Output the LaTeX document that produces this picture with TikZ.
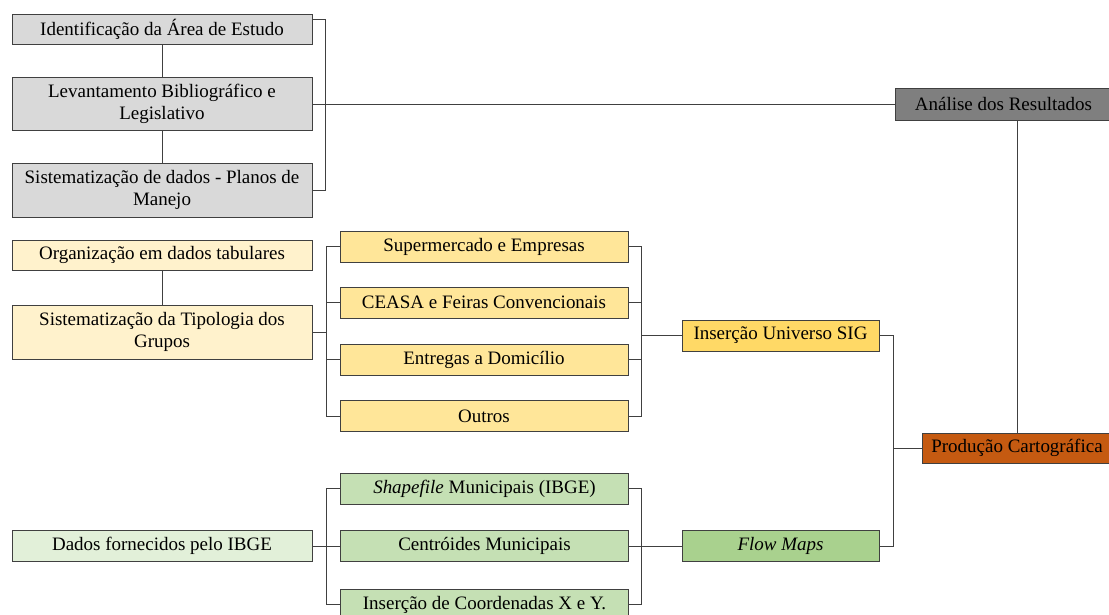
\documentclass[tikz,border=0pt]{standalone}
\usepackage{fontspec}
\setmainfont{Liberation Serif}
\usepackage{xcolor}
\usepackage{tikz}
\usetikzlibrary{positioning, calc}

\definecolor{cinzaclaro}{HTML}{D9D9D9}
\definecolor{cinzaescuro}{HTML}{7F7F7F}
\definecolor{laranja}{HTML}{C55A11}
\definecolor{amareloclaro}{HTML}{FFF2CC}
\definecolor{amarelo}{HTML}{FFE699}
\definecolor{amareloforte}{HTML}{FFD966}
\definecolor{verdeclaro}{HTML}{E2F0D9}
\definecolor{verde}{HTML}{C5E0B4}
\definecolor{verdeforte}{HTML}{A9D18E}
\definecolor{linha}{HTML}{404040}

\begin{document}
\begin{tikzpicture}[x=0.025cm, y=-0.025cm,
    font=\fontsize{13.5}{15.6}\selectfont,
    caixa/.style={draw=linha, line width=0.6pt, align=center, inner sep=0pt,
                  minimum height=0.75cm},
    etapa/.style={caixa, minimum width=7.5cm},
    ramo/.style={caixa, minimum width=7.2cm, minimum height=0.775cm},
    saida/.style={caixa, minimum width=4.925cm, minimum height=0.775cm},
    liga/.style={draw=linha, line width=0.6pt}]
  \useasboundingbox (0,0) rectangle (1109,615);

  % etapas iniciais
  \node[etapa, fill=cinzaclaro] (ide) at (162, 29) {Identificação da Área de Estudo};
  \node[etapa, fill=cinzaclaro, minimum height=1.325cm] (lev) at (162, 104) {Levantamento Bibliográfico e\\Legislativo};
  \node[etapa, fill=cinzaclaro, minimum height=1.35cm] (sis) at (162, 190) {Sistematização de dados - Planos de\\Manejo};

  \node[etapa, fill=amareloclaro] (org) at (162, 255) {Organização em dados tabulares};
  \node[etapa, fill=amareloclaro, minimum height=1.35cm] (tip) at (162, 332) {Sistematização da Tipologia dos\\Grupos};

  \node[etapa, fill=verdeclaro, minimum height=0.775cm] (ibge) at (162, 546) {Dados fornecidos pelo IBGE};

  % grupos
  \node[ramo, fill=amarelo] (sup) at (484, 246.5) {Supermercado e Empresas};
  \node[ramo, fill=amarelo] (cea) at (484, 302.5) {CEASA e Feiras Convencionais};
  \node[ramo, fill=amarelo] (ent) at (484, 359.5) {Entregas a Domicílio};
  \node[ramo, fill=amarelo] (out) at (484, 416) {Outros};

  \node[ramo, fill=verde] (shp) at (484.5, 488.5) {\textit{Shapefile} Municipais (IBGE)};
  \node[ramo, fill=verde] (cen) at (484.5, 546) {Centróides Municipais};
  \node[ramo, fill=verde] (coo) at (484.5, 604.5) {Inserção de Coordenadas X e Y.};

  % saidas
  \node[saida, fill=amareloforte] (sig) at (780.5, 335.5) {Inserção Universo SIG};
  \node[saida, fill=verdeforte] (flow) at (780.5, 546) {\textit{Flow Maps}};

  \node[caixa, fill=cinzaescuro, minimum width=5.425cm, minimum height=0.8cm] (ana) at (1003.5, 104) {Análise dos Resultados};
  \node[caixa, fill=laranja, minimum width=4.75cm] (pro) at (1017, 448) {Produção Cartográfica};

  % colunas dos colchetes
  \coordinate (ca) at (325, 0);
  \coordinate (ce) at (326, 0);
  \coordinate (cd) at (641, 0);
  \coordinate (cs) at (893, 0);

  % ligacoes
  \draw[liga] (ide) -- (lev); \draw[liga] (lev) -- (sis);
  \draw[liga] ([yshift=7pt]ide.east) -| (ca |- sis.east) -- (sis.east);
  \draw[liga] (lev.east) -- (ana.west);
  \draw[liga] (ana.south -| pro.north) -- (pro.north);

  \draw[liga] (org) -- (tip);
  \draw[liga] (tip.east) -- (tip.east -| ce);
  \draw[liga] (sup.west) -| (ce |- out.west) -- (out.west);
  \draw[liga] (cea.west) -- (cea.west -| ce); \draw[liga] (ent.west) -- (ent.west -| ce);
  \draw[liga] (sup.east) -| (cd |- out.east) -- (out.east);
  \draw[liga] (cea.east) -- (cea.east -| cd); \draw[liga] (ent.east) -- (ent.east -| cd);
  \draw[liga] (sig.west) -- (sig.west -| cd);

  \draw[liga] (ibge.east) -- (cen.west);
  \draw[liga] (shp.west) -| (ce |- coo.west) -- (coo.west);
  \draw[liga] (shp.east) -| (cd |- coo.east) -- (coo.east);
  \draw[liga] (cen.east) -- (flow.west);

  \draw[liga] (sig.east) -| (cs |- flow.east) -- (flow.east);
  \draw[liga] (pro.west) -- (pro.west -| cs);
\end{tikzpicture}
\end{document}
